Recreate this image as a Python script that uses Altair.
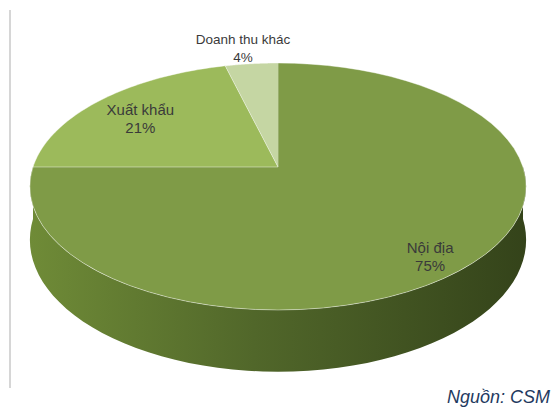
import altair as alt
import pandas as pd

# ---- data ----
categories = ["Nội địa", "Xuất khẩu", "Doanh thu khác"]
shares = [75, 21, 4]
slice_colors = ["#7F9B47", "#9CBA5B", "#C5D6A3"]
title_text = ["Cơ cấu doanh thu"]
source_text = ["Nguồn: CSM"]

# ---- layout constants (pseudo-3D projection of the pie) ----
W, H = 551, 411
CX, CY = 278, 167      # centre of the pie top face
R, RT = 245, 120.4     # horizontal radius, vertical (tilted) radius
K = 0.158              # perspective factor
D = 52                 # side depth
N = 60                 # points per arc

df = pd.DataFrame({"cat": categories, "val": shares, "idx": list(range(len(categories)))})

xs = alt.Scale(domain=[0, W])
ys = alt.Scale(domain=[0, H], reverse=True)

base = (
    alt.Chart(df)
    .transform_window(cum="sum(val)", sort=[alt.SortField("idx")], frame=[None, 0])
    .transform_joinaggregate(total="sum(val)")
    .transform_calculate(
        a0="2*PI*(datum.cum-datum.val)/datum.total",
        a1="2*PI*datum.cum/datum.total",
    )
)

# side wall (visible front half only)
side_grad = alt.Gradient(
    gradient="linear",
    stops=[
        alt.GradientStop(color="#6F8B37", offset=0),
        alt.GradientStop(color="#51672A", offset=0.45),
        alt.GradientStop(color="#34431A", offset=1),
    ],
    x1=0, x2=1, y1=0, y2=0,
)
side = (
    base.transform_calculate(b0="max(datum.a0, PI/2)", b1="min(datum.a1, 3*PI/2)")
    .transform_filter("datum.b1 > datum.b0")
    .transform_calculate(s=f"sequence(0, {2 * N + 2})")
    .transform_flatten(["s"])
    .transform_calculate(
        a=f"datum.s <= {N} ? datum.b0 + (datum.b1-datum.b0)*datum.s/{N} : datum.b1 - (datum.b1-datum.b0)*(datum.s-{N}-1)/{N}",
        X="sin(datum.a)",
        Z="cos(datum.a)",
        sc=f"1/(1+{K}*datum.Z)",
        px=f"{CX} + {R}*datum.X*datum.sc",
        py=f"{CY} - {RT}*datum.Z*datum.sc + (datum.s <= {N} ? 0 : {D}*datum.sc)",
    )
    .mark_line(filled=True, fill=side_grad, strokeWidth=0)
    .encode(
        x=alt.X("px:Q", scale=xs, axis=None),
        y=alt.Y("py:Q", scale=ys, axis=None),
        order="s:Q",
        detail="cat:N",
    )
)

# top face slices
top = (
    base.transform_calculate(s=f"sequence(0, {N + 2})")
    .transform_flatten(["s"])
    .transform_calculate(
        a=f"datum.a0 + (datum.a1-datum.a0)*(datum.s-1)/{N}",
        X="datum.s == 0 ? 0 : sin(datum.a)",
        Z="datum.s == 0 ? 0 : cos(datum.a)",
        sc=f"1/(1+{K}*datum.Z)",
        px=f"{CX} + {R}*datum.X*datum.sc",
        py=f"{CY} - {RT}*datum.Z*datum.sc",
    )
    .mark_line(filled=True, stroke="#FFFFFF", strokeWidth=0.6, strokeOpacity=0.7, strokeJoin="round")
    .encode(
        x=alt.X("px:Q", scale=xs, axis=None),
        y=alt.Y("py:Q", scale=ys, axis=None),
        order="s:Q",
        color=alt.Color("cat:N", scale=alt.Scale(domain=categories, range=slice_colors), legend=None),
    )
)

# data labels
labels = (
    base.transform_calculate(
        m="(datum.a0+datum.a1)/2",
        X="sin(datum.m)",
        Z="cos(datum.m)",
        sc=f"1/(1+{K}*datum.Z)",
        fx="datum.val < 10 ? 1.32 : 0.78",
        fy="datum.val < 10 ? 1.23 : 0.85",
        px=f"{CX} + {R}*datum.X*datum.sc*datum.fx",
        py=f"{CY} - {RT}*datum.Z*datum.sc*datum.fy",
        lab="datum.cat + '\\n' + datum.val + '%'",
    )
    .mark_text(lineBreak="\n", font="Liberation Sans", color="#3A3A3A", baseline="middle", align="center", lineHeight=18)
    .encode(
        x=alt.X("px:Q", scale=xs, axis=None),
        y=alt.Y("py:Q", scale=ys, axis=None),
        text="lab:N",
        size=alt.condition("datum.val < 10", alt.value(13.5), alt.value(15)),
    )
)

tdf = pd.DataFrame({"t": title_text})
sdf = pd.DataFrame({"t": source_text})

frame_line = alt.Chart(tdf).mark_rule(color="#C8C8C8", strokeWidth=1.5).encode(
    x=alt.value(10), y=alt.value(10), y2=alt.value(388)
)

title = alt.Chart(tdf).mark_text(
    font="Liberation Sans", fontSize=40, color="#9DBDE6", baseline="alphabetic", align="center"
).encode(x=alt.value(278), y=alt.value(-1), text="t:N")

source = alt.Chart(sdf).mark_text(
    font="Liberation Sans", fontSize=18, fontStyle="italic", color="#1F3A60", baseline="alphabetic", align="right"
).encode(x=alt.value(550), y=alt.value(403), text="t:N")

chart = (
    alt.layer(side, top, labels, frame_line, title, source)
    .properties(width=W, height=H, padding=0, autosize="none", background="white")
    .configure_view(stroke=None)
)

chart.save("out.html", embed_options={"renderer": "svg", "actions": False})
